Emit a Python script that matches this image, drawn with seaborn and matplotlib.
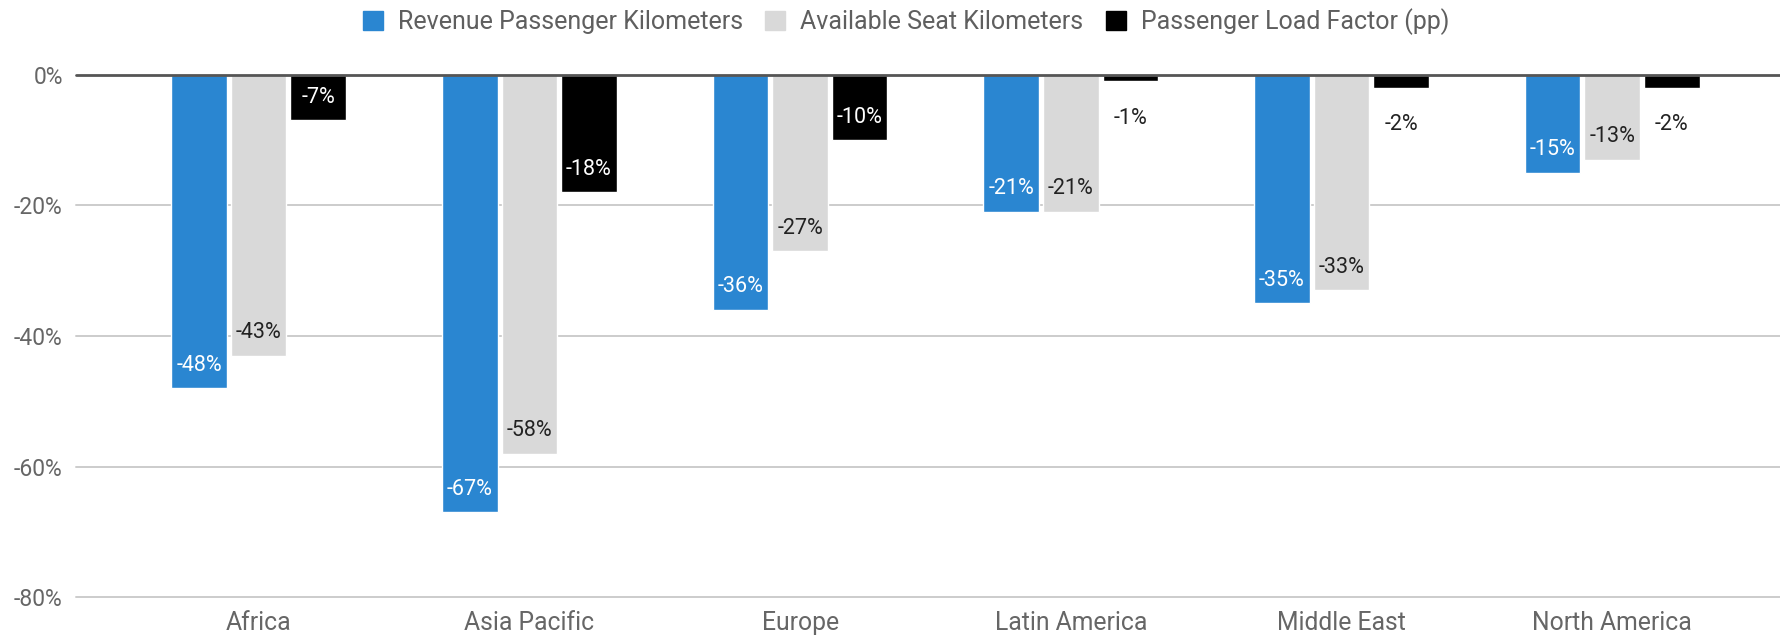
import pandas as pd
import matplotlib.pyplot as plt
import seaborn as sns

regions = ["Africa", "Asia Pacific", "Europe", "Latin America", "Middle East", "North America"]
metrics = ["Revenue Passenger Kilometers", "Available Seat Kilometers", "Passenger Load Factor (pp)"]
rpk = [-48, -67, -36, -21, -35, -15]
ask = [-43, -58, -27, -21, -33, -13]
plf = [-7, -18, -10, -1, -2, -2]
colors = ["#2a86d1", "#d9d9d9", "#000000"]
label_colors = ["white", "#222222", "white"]

df = pd.DataFrame({
    "region": regions * 3,
    "metric": [m for m in metrics for _ in regions],
    "value": rpk + ask + plf,
})

sns.set_style("white")
plt.rcParams["font.family"] = ["Roboto", "DejaVu Sans"]

fig, ax = plt.subplots(figsize=(17.8, 6.37), dpi=100)
fig.subplots_adjust(left=76/1780, right=1.0, top=1-74.7/637, bottom=1-597.3/637)

for y in [-20, -40, -60, -80]:
    ax.axhline(y, color="#cccccc", lw=1.4, zorder=0, clip_on=False)

sns.barplot(data=df, x="region", y="value", hue="metric", order=regions, hue_order=metrics,
            palette=colors, saturation=1, width=0.66, gap=0.067, ax=ax, zorder=2)

ax.axhline(0, color="#555555", lw=2, zorder=4, clip_on=False)

# data labels: inside the bar end if it fits, otherwise under it
for cont, vals, lc in zip(ax.containers, [rpk, ask, plf], label_colors):
    for bar, v in zip(cont, vals):
        xc = bar.get_x() + bar.get_width() / 2
        if abs(v) >= 5:
            ax.annotate(f"{v:.0f}%", (xc, v), xytext=(0, 23), textcoords="offset pixels",
                        ha="center", va="center", color=lc, fontsize=15.5, zorder=5)
        else:
            ax.annotate(f"{v:.0f}%", (xc, v), xytext=(0, -37), textcoords="offset pixels",
                        ha="center", va="center", color="#222222", fontsize=15.5, zorder=5)

ax.set_ylim(-80, 0)
ax.set_xlim(-0.675, 5.62)
ax.set_yticks([0, -20, -40, -60, -80])
ax.set_yticklabels(["0%", "-20%", "-40%", "-60%", "-80%"])
ax.tick_params(axis="y", length=0, pad=9.5, labelsize=16.5, labelcolor="#666666")
ax.tick_params(axis="x", length=0, pad=10, labelsize=17.8, labelcolor="#666666")
ax.set_xlabel("")
ax.set_ylabel("")
sns.despine(ax=ax, left=True, bottom=True, top=True, right=True)

ax.legend_.remove()
handles = [plt.Rectangle((0, 0), 1, 1, color=c) for c in colors]
fig.legend(handles, metrics, loc="center", bbox_to_anchor=(906/1780, 1-21.6/637), ncol=3,
           frameon=False, fontsize=18, labelcolor="#5f5f5f", handlelength=0.8, handleheight=0.8,
           handletextpad=0.6, columnspacing=0.9)

fig.savefig("out.png", dpi=100)
